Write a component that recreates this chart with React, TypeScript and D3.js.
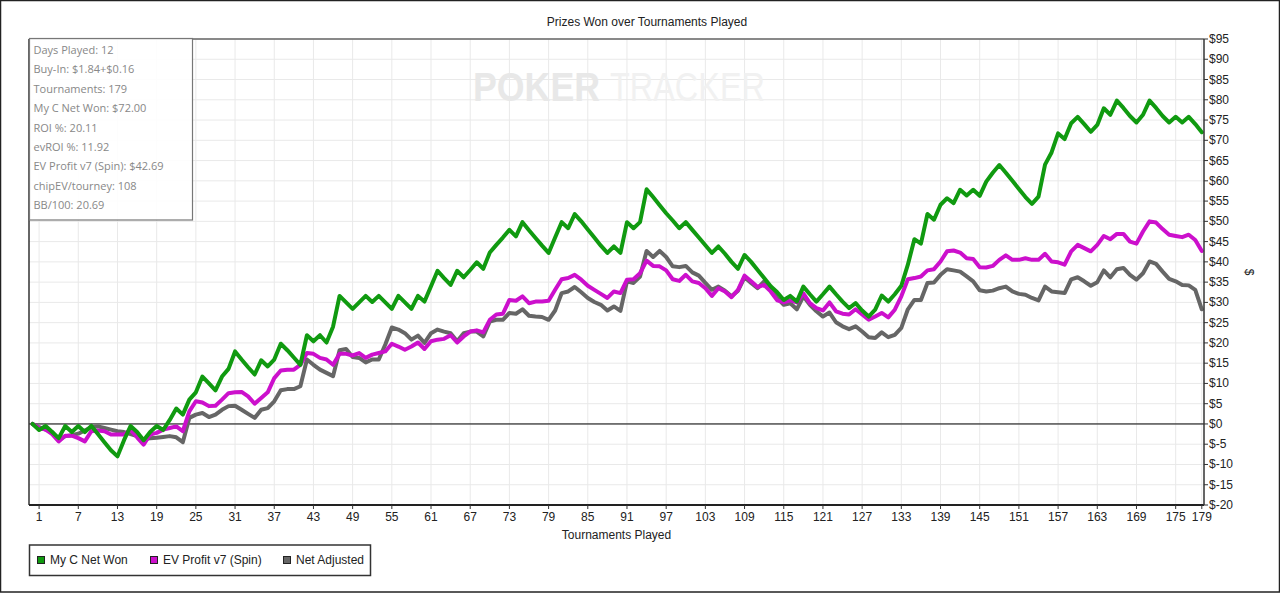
import React from 'react';
import * as d3 from 'd3';

const netWon = [
  0, -1.5, -0.5, -2, -3.5, -0.5, -2, -0.5, -2, -0.5,
  -2.5, -4.5, -6.5, -8, -4, -0.5, -2, -4, -2, -0.5,
  -1.5, 1, 3.8, 2.3, 6, 7.8, 11.7, 10, 8.3, 11.7,
  13.6, 17.9, 15.9, 14, 12.2, 15.7, 14.2, 15.9, 19.8, 18.2,
  16.4, 14.6, 21.9, 20.4, 21.9, 20.1, 24, 31.6, 30, 28.4,
  30, 31.6, 30.1, 31.6, 30, 28.4, 31.6, 30, 28.4, 31.6,
  30.2, 34, 37.8, 36, 34.3, 37.8, 36.2, 38, 39.9, 38.3,
  42.3, 44.2, 46, 47.9, 46.3, 49.8, 47.8, 45.9, 44, 42.2,
  46, 49.8, 48.3, 51.8, 50, 48, 46, 44, 42.2, 43.8,
  42.2, 49.8, 48.3, 49.8, 57.9, 56, 54, 52, 50.2, 48.3,
  49.8, 47.9, 46, 44.1, 42.2, 43.8, 42, 40, 38.3, 41.7,
  40, 38, 36, 34, 32.5, 30.6, 31.6, 30.2, 33.9, 32,
  30.2, 32, 33.9, 32, 30.2, 28.6, 29.8, 28, 26.5, 28.2,
  31.7, 30.2, 32, 34.1, 39.3, 45.6, 44.5, 51.8, 50.4, 54.1,
  55.7, 54.5, 57.8, 56.4, 57.8, 56.3, 59.8, 62, 63.9, 62,
  60, 58, 56, 54.3, 56.1, 64, 67, 71.7, 70.3, 74.2,
  75.8, 74, 72.1, 73.8, 77.9, 76.3, 79.8, 78, 76, 74.4,
  76.3, 79.8, 78, 76, 74.4, 75.8, 74.4, 75.8, 74, 72,
];

const evProfit = [
  0, -1, -1.4, -2.5, -4.3, -2.9, -2.9, -3.5, -4.3, -1.8,
  -1.6, -1.8, -2.6, -2.6, -2.6, -1.4, -3.3, -5.1, -2.6, -2.2,
  -1.4, -1, -0.6, -1.8, 3.1, 5.6, 5.3, 4.4, 4.5, 6,
  7.6, 7.8, 7.9, 6.8, 5, 6.4, 7.8, 11.3, 13.2, 13.4,
  13.4, 14.6, 17.5, 17.3, 16.3, 15.9, 14.6, 17.3, 17.3, 16.9,
  17.5, 16.3, 17.1, 17.5, 17.9, 19.8, 19.1, 18.3, 19.1, 20.1,
  18.5, 20.4, 20.8, 21, 21.9, 20.1, 21.6, 22.8, 23.1, 22.6,
  25.7, 27, 27.2, 30.6, 30.4, 31.5, 29.8, 30.2, 30.2, 30.4,
  33.1, 35.7, 36, 36.8, 35.6, 34.1, 33.1, 32.1, 31.1, 32.7,
  32.3, 35.6, 35.7, 37.2, 40.3, 39, 38.9, 37.9, 35.7, 35.3,
  36.8, 35.2, 34.8, 33.5, 31.6, 33.5, 32.7, 31.3, 33.1, 36.6,
  35.2, 33.8, 34.3, 32.7, 30.5, 30, 30.5, 30, 32.2, 29.8,
  28.6, 28, 30, 27.8, 27.2, 27, 28.3, 27, 25.7, 26.5,
  27.4, 26.3, 28.2, 31.5, 35.7, 36, 36.4, 37.9, 38.2, 40.1,
  42.6, 42.8, 42.3, 40.9, 40.7, 38.7, 38.6, 39, 40.5, 41.6,
  40.5, 40.5, 40.9, 40.5, 40.5, 42, 40.1, 39.9, 39.3, 42.6,
  44.2, 43.4, 42.6, 44.2, 46.4, 45.6, 46.9, 46.9, 45, 44.5,
  47.5, 50, 49.7, 48.1, 46.7, 46.4, 46.1, 46.7, 45.4, 42.7,
];

const netAdjusted = [
  0, -0.8, -1.4, -2, -4, -3, -2.8, -2.4, -1.6, -0.8,
  -0.6, -1, -1.4, -1.8, -2, -2.5, -3, -3.9, -3.5, -3.4,
  -3.2, -3, -3.3, -4.5, 1.5, 2.3, 2.7, 1.7, 2.3, 3.5,
  4.4, 4.5, 3.5, 2.5, 1.5, 3.5, 3.9, 5.6, 8.3, 8.6,
  8.6, 9.3, 15.9, 14.6, 13.4, 12.6, 11.8, 18.2, 18.5, 16.5,
  16.3, 15.2, 15.9, 15.9, 19.6, 23.8, 23.3, 22.4, 20.8, 21.8,
  20, 22.4, 23.3, 22.8, 22.4, 20.4, 22.4, 22.8, 22.8, 21.6,
  25.3, 25.7, 25.7, 27.4, 27.2, 28.3, 26.7, 26.5, 26.4, 25.7,
  28, 32.3, 32.7, 33.8, 32.5, 31.1, 30.1, 29.4, 28, 29,
  27.9, 35.2, 34.8, 36.4, 42.7, 41.2, 42.7, 41.2, 38.9, 38.7,
  39, 37.4, 36.6, 34.8, 33.1, 33.9, 32.9, 31.5, 32.9, 36.2,
  34.8, 33.5, 35.2, 33.5, 31.1, 29.4, 29.8, 28.3, 31.5, 29.4,
  27.8, 26.5, 27.5, 25.1, 24.1, 23.4, 24.1, 22.8, 21.4, 21.2,
  22.6, 21.4, 22, 23.7, 28.3, 30.6, 30.6, 34.8, 34.9, 36.8,
  38.2, 37.9, 37.6, 36.4, 35.2, 33, 32.7, 32.9, 33.5, 33.9,
  32.7, 32.1, 31.9, 31.1, 30.5, 33.9, 32.7, 32.5, 32.3, 35.7,
  36.2, 35.2, 34.1, 35, 37.9, 36.2, 38.2, 38.5, 36.8, 35.6,
  37.2, 40.1, 39.5, 37.6, 35.8, 35.2, 34.3, 34.2, 33.1, 28.3,
];

const xTicks = [1, 7, 13, 19, 25, 31, 37, 43, 49, 55, 61, 67, 73, 79, 85, 91, 97, 103, 109, 115, 121, 127, 133, 139, 145, 151, 157, 163, 169, 175, 179];
const yTicks = [-20, -15, -10, -5, 0, 5, 10, 15, 20, 25, 30, 35, 40, 45, 50, 55, 60, 65, 70, 75, 80, 85, 90, 95];

const seriesNames = ['My C Net Won', 'EV Profit v7 (Spin)', 'Net Adjusted'];
const seriesColors = ['#109a10', '#cc10cc', '#666666'];

const infoLines = [
  'Days Played: 12',
  'Buy-In: $1.84+$0.16',
  'Tournaments: 179',
  'My C Net Won: $72.00',
  'ROI %: 20.11',
  'evROI %: 11.92',
  'EV Profit v7 (Spin): $42.69',
  'chipEV/tourney: 108',
  'BB/100: 20.69',
];

const W = 1280;
const H = 593;
const plot = { left: 29, right: 1204, top: 39, bottom: 505 };
const FONT = '"Liberation Sans", Arial, sans-serif';

export default function App() {
  const x = d3.scaleLinear().domain([1, 179]).range([39.1, 1201.8]);
  const y = d3.scaleLinear().domain([-20, 95]).range([plot.bottom, plot.top]);
  const series = [netWon, evProfit, netAdjusted];
  const line = d3
    .line<number>()
    .x((_, i) => x(i))
    .y((d) => y(d));

  const drawOrder = [2, 1, 0];

  const legendX = [37, 150, 283];

  return (
    <div>
      <style>{`body{margin:0;}`}</style>
      <svg width={W} height={H} style={{ display: 'block', background: '#fff' }} fontFamily={FONT}>
        <rect x={0.5} y={0.5} width={W - 1} height={H - 1.5} fill="#fff" stroke="#222" strokeWidth={1.5} />

        <text x={647} y={26} textAnchor="middle" fontSize={12} fill="#222">
          Prizes Won over Tournaments Played
        </text>

        {/* grid */}
        <g>
          {yTicks.map((t) => (
            <line key={'gy' + t} x1={plot.left} x2={plot.right} y1={y(t)} y2={y(t)} stroke="#e9e9e9" strokeWidth={1} />
          ))}
          {xTicks.map((t) => (
            <line key={'gx' + t} x1={x(t)} x2={x(t)} y1={plot.top} y2={plot.bottom} stroke="#e9e9e9" strokeWidth={1} />
          ))}
        </g>

        {/* watermark */}
        <text x={473} y={101} fontSize={40} fontWeight="bold" fill="#e8e8e8" textLength={127} lengthAdjust="spacingAndGlyphs">
          POKER
        </text>
        <text x={610} y={101} fontSize={40} fill="#f1f1f1" textLength={155} lengthAdjust="spacingAndGlyphs">
          TRACKER
        </text>

        {/* zero line */}
        <line x1={plot.left} x2={plot.right} y1={y(0)} y2={y(0)} stroke="#000" strokeWidth={1} />

        {/* series */}
        <g fill="none" strokeWidth={4} strokeLinejoin="round" strokeLinecap="round">
          {drawOrder.map((si) => (
            <path key={'s' + si} d={line(series[si]) || ''} stroke={seriesColors[si]} />
          ))}
        </g>

        {/* frame */}
        <line x1={plot.left} x2={plot.right} y1={plot.top} y2={plot.top} stroke="#666" strokeWidth={1.5} />
        <line x1={plot.left} x2={plot.left} y1={plot.top} y2={plot.bottom} stroke="#333" strokeWidth={1.5} />
        <line x1={plot.left} x2={plot.right} y1={plot.bottom} y2={plot.bottom} stroke="#222" strokeWidth={2} />
        <line x1={plot.right} x2={plot.right} y1={plot.top} y2={plot.bottom} stroke="#333" strokeWidth={1.5} />

        {/* y axis right */}
        <g fontSize={12} fill="#222">
          {yTicks.map((t) => (
            <g key={'yt' + t}>
              <line x1={plot.right} x2={plot.right + 4} y1={y(t)} y2={y(t)} stroke="#333" />
              <text x={plot.right + 5} y={y(t) + 4}>{'$' + t}</text>
            </g>
          ))}
        </g>
        <text x={1245} y={272} fontSize={12} fill="#222" textAnchor="middle" transform="rotate(90 1245 272)">
          $
        </text>

        {/* x axis */}
        <g fontSize={12} fill="#222">
          {xTicks.map((t) => (
            <g key={'xt' + t}>
              <line x1={x(t)} x2={x(t)} y1={plot.bottom} y2={plot.bottom + 4} stroke="#333" />
              <text x={x(t)} y={521} textAnchor="middle">{t}</text>
            </g>
          ))}
        </g>
        <text x={616.5} y={539} fontSize={12} fill="#222" textAnchor="middle">
          Tournaments Played
        </text>

        {/* info box */}
        <rect x={29.5} y={38.5} width={163} height={181.5} fill="#fff" fillOpacity={0.9} stroke="#777" strokeWidth={1.2} />
        <g fontFamily='"Open Sans", "Noto Sans", sans-serif' fontSize={11} fill="#888">
          {infoLines.map((s, i) => (
            <text key={'info' + i} x={33.5} y={54 + i * 19.4}>
              {s}
            </text>
          ))}
        </g>

        {/* legend */}
        <rect x={29.5} y={545} width={341} height={30.5} fill="#fff" stroke="#333" strokeWidth={1.5} />
        <g fontSize={12} fill="#222">
          {seriesNames.map((name, i) => (
            <g key={'lg' + i}>
              <rect x={legendX[i] + 0.5} y={556.5} width={7} height={7} fill={seriesColors[i]} stroke="#222" strokeWidth={1} />
              <text x={legendX[i] + 13} y={564}>{name}</text>
            </g>
          ))}
        </g>
      </svg>
    </div>
  );
}
